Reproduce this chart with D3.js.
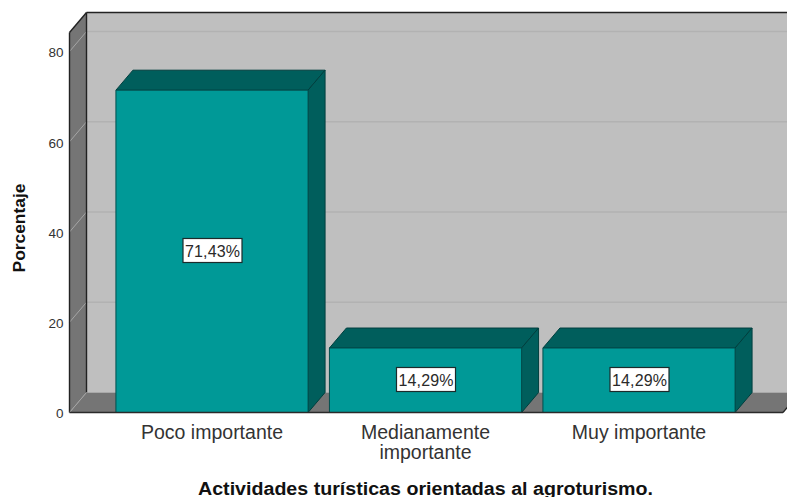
<!DOCTYPE html>
<html><head><meta charset="utf-8">
<script src="https://cdnjs.cloudflare.com/ajax/libs/d3/7.8.5/d3.min.js"></script>
<style>html,body{margin:0;padding:0;background:#fff}svg{display:block}text{font-family:"Liberation Sans",Arial,sans-serif}</style>
</head><body><svg id="c" width="787" height="497"></svg>
<script>
const categories=[["Poco importante"],["Medianamente","importante"],["Muy importante"]];
const values=[71.43,14.29,14.29];
const labels=["71,43%","14,29%","14,29%"];
const yTicks=[0,20,40,60,80];
const xTitle="Actividades turísticas orientadas al agroturismo.";
const yTitle="Porcentaje";
const dx=17,dy=-20;
const svg=d3.select("#c");
const y=d3.scaleLinear().domain([0,80]).range([412.5,51.5]);
const x=d3.scaleBand().domain(d3.range(categories.length)).range([105.25,745.75]).paddingInner(0.1).paddingOuter(0.05);
const frontL=69.5,frontR=783,wallTop=12.5;
const poly=(pts,fill,stroke,w=1)=>svg.append("polygon").attr("points",pts.map(p=>p.join(",")).join(" ")).attr("fill",fill).attr("stroke",stroke).attr("stroke-width",w);
const y0=y(0),backL=frontL+dx,backB=y0+dy;
// back wall
poly([[backL,wallTop],[800,wallTop],[800,backB],[backL,backB]],"#bfbfbf","none");
svg.append("line").attr("x1",backL).attr("x2",787).attr("y1",wallTop).attr("y2",wallTop).attr("stroke","#222").attr("stroke-width",1.4);
// floor
poly([[frontL,y0],[frontR,y0],[frontR+dx,backB],[backL,backB]],"#757575","none");
// left wall
poly([[frontL,y0],[backL,backB],[backL,wallTop],[frontL,wallTop-dy]],"#757575","none");
// gridlines
yTicks.slice(1).forEach(t=>{
  svg.append("line").attr("x1",backL).attr("x2",787).attr("y1",y(t)+dy).attr("y2",y(t)+dy).attr("stroke","#b2b2b2").attr("stroke-width",1.6);
  svg.append("line").attr("x1",frontL).attr("x2",backL).attr("y1",y(t)).attr("y2",y(t)+dy).attr("stroke","#a5a5a5").attr("stroke-width",1);
});
// wall edges
const edge=(a,b,c,d,col="#222",w=1.4)=>svg.append("line").attr("x1",a).attr("y1",b).attr("x2",c).attr("y2",d).attr("stroke",col).attr("stroke-width",w);
edge(backL,wallTop,backL,backB);
edge(frontL,wallTop-dy,frontL,y0);
edge(frontL,wallTop-dy,backL,wallTop);
edge(backL,backB,frontL,y0,"#a5a5a5",1);
edge(frontR,y0,frontR+dx,backB,"#222",1.2);
// bars
values.forEach((v,i)=>{
  const l=x(i),r=l+x.bandwidth(),t=y(v);
  poly([[l,t],[l+dx,t+dy],[r+dx,t+dy],[r,t]],"#005e5c","#003f3e",1);
  poly([[r,t],[r+dx,t+dy],[r+dx,y0+dy],[r,y0]],"#005e5c","#003f3e",1);
  poly([[l,t],[r,t],[r,y0],[l,y0]],"#009997","#004e4d",1);
});
edge(frontL,y0,frontR,y0,"#2a2a2a",1.6);
// value labels
values.forEach((v,i)=>{
  const cx=x(i)+x.bandwidth()/2+0.5;
  const g=svg.append("g").attr("transform",`translate(${cx},${i==0?250.5:379.5})`);
  g.append("rect").attr("x",-29.5).attr("y",-12).attr("width",59).attr("height",24).attr("fill","#fff").attr("stroke","#1c2b2b").attr("stroke-width",1.2);
  g.append("text").attr("text-anchor","middle").attr("y",6).attr("font-size",16).attr("fill","#2a2a2a").attr("textLength",55).text(labels[i]);
});
// y ticks
const ya=d3.axisLeft(y).tickValues(yTicks).tickSize(0).tickPadding(6);
const gy=svg.append("g").attr("transform",`translate(${frontL},1)`).call(ya);
gy.select(".domain").remove();
gy.selectAll("text").attr("font-size",13.5).attr("fill","#333").style("font-family",'"Liberation Sans",Arial,sans-serif');
// x labels
const xa=d3.axisBottom(x).tickSize(0).tickFormat(()=>"");
const gx=svg.append("g").attr("transform",`translate(0,${y0})`).call(xa);
gx.select(".domain").remove();
gx.selectAll(".tick").each(function(d){
  const t=d3.select(this).select("text").attr("y",0).attr("dy",0).attr("font-size",19.5).attr("fill","#333").style("font-family",'"Liberation Sans",Arial,sans-serif').attr("text-anchor","middle");
  categories[d].forEach((s,j)=>t.append("tspan").attr("x",0).attr("y",26+j*20).text(s));
});
svg.append("text").attr("x",425.5).attr("y",495).attr("text-anchor","middle").attr("font-size",18).attr("font-weight","bold").attr("fill","#111").attr("textLength",455).attr("lengthAdjust","spacingAndGlyphs").text(xTitle);
svg.append("text").attr("transform","translate(25,228) rotate(-90)").attr("text-anchor","middle").attr("font-size",17.4).attr("font-weight","bold").attr("fill","#111").text(yTitle);
</script></body></html>
